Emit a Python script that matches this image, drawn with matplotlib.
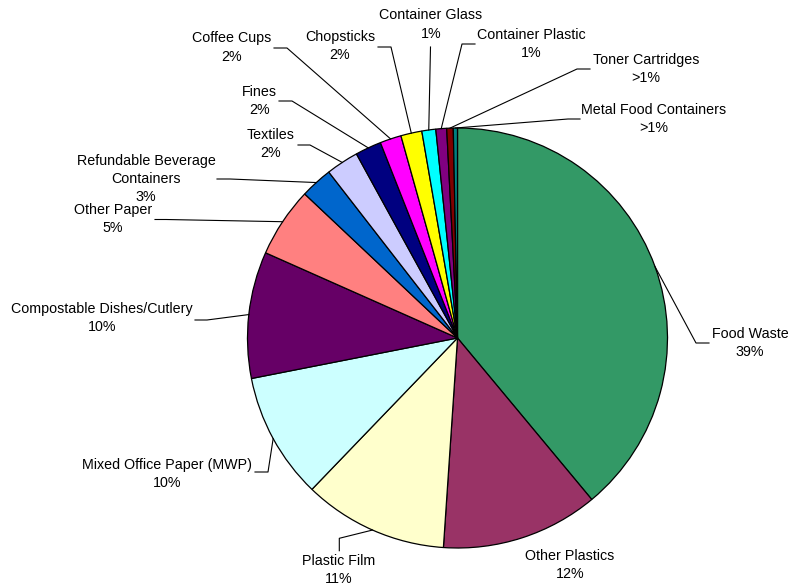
import numpy as np
import matplotlib
matplotlib.use("Agg")
import matplotlib.pyplot as plt

plt.rcParams['font.family'] = ['Liberation Sans', 'DejaVu Sans']

categories = ["Food Waste", "Other Plastics", "Plastic Film", "Mixed Office Paper (MWP)",
              "Compostable Dishes/Cutlery", "Other Paper", "Refundable Beverage\nContainers",
              "Textiles", "Fines", "Coffee Cups", "Chopsticks", "Container Glass",
              "Container Plastic", "Toner Cartridges", "Metal Food Containers"]
shares = [38.96, 12.11, 11.12, 9.72, 9.74, 5.38, 2.47, 2.51, 2.01, 1.64, 1.62, 1.07, 0.83, 0.50, 0.32]
pct_labels = ["39%", "12%", "11%", "10%", "10%", "5%", "3%", "2%", "2%", "2%", "2%", "1%", "1%", ">1%", ">1%"]
colors = ["#339966", "#993366", "#FFFFCC", "#CCFFFF", "#660066", "#FF8080", "#0066CC",
          "#CCCCFF", "#000080", "#FF00FF", "#FFFF00", "#00FFFF", "#800080", "#800000", "#008080"]

# label layout in pixels: text centre, then leader bend points (edge point comes from the wedge)
W, H = 789, 588
cx, cy, R = 457.5, 338, 210
text_pos = [(750, 343), (570, 565), (339, 570), (167, 474), (102, 318), (113, 219), (146, 179),
            (271, 144), (259.5, 101), (231.5, 47.5), (340, 46), (431, 24.5), (531, 44), (646, 69), (654, 119)]
bends = [[(696, 343), (709, 343)], [], [(339.3, 538.3), (339.3, 550.7)], [(268, 472), (255, 472)],
         [(207, 320), (195, 320)], [(166, 219.5), (155, 219.5)], [(230, 179), (217, 179)],
         [(310, 145), (298, 145)], [(292, 101), (279, 101)], [(287, 48), (274, 48)],
         [(391, 47), (378, 47)], [(430.5, 47)], [(462, 44), (475, 44)],
         [(577, 69), (590, 69)], [(568, 119), (580, 119)]]


def px(p):
    return ((p[0] - cx) / R, (cy - p[1]) / R)


fig = plt.figure(figsize=(W / 100, H / 100), dpi=100)
ax = fig.add_axes([0, 0, 1, 1])
wedges, _ = ax.pie(shares, colors=colors, startangle=90, counterclock=False, radius=1,
                   wedgeprops=dict(edgecolor="black", linewidth=0.9))
ax.set_xlim(-cx / R, (W - cx) / R)
ax.set_ylim(-(H - cy) / R, cy / R)
ax.axis("off")

for w, name, pct, tp, bp in zip(wedges, categories, pct_labels, text_pos, bends):
    mid = np.deg2rad((w.theta1 + w.theta2) / 2)
    if bp:
        xs = [np.cos(mid)] + [px(b)[0] for b in bp]
        ys = [np.sin(mid)] + [px(b)[1] for b in bp]
        ax.plot(xs, ys, color="black", linewidth=0.8)
    tx, ty = px(tp)
    ax.text(tx, ty, name + "\n" + pct, ha="center", va="center", multialignment="center",
            fontsize=10.3, color="black", linespacing=1.4)

fig.savefig("out.png", dpi=100)
